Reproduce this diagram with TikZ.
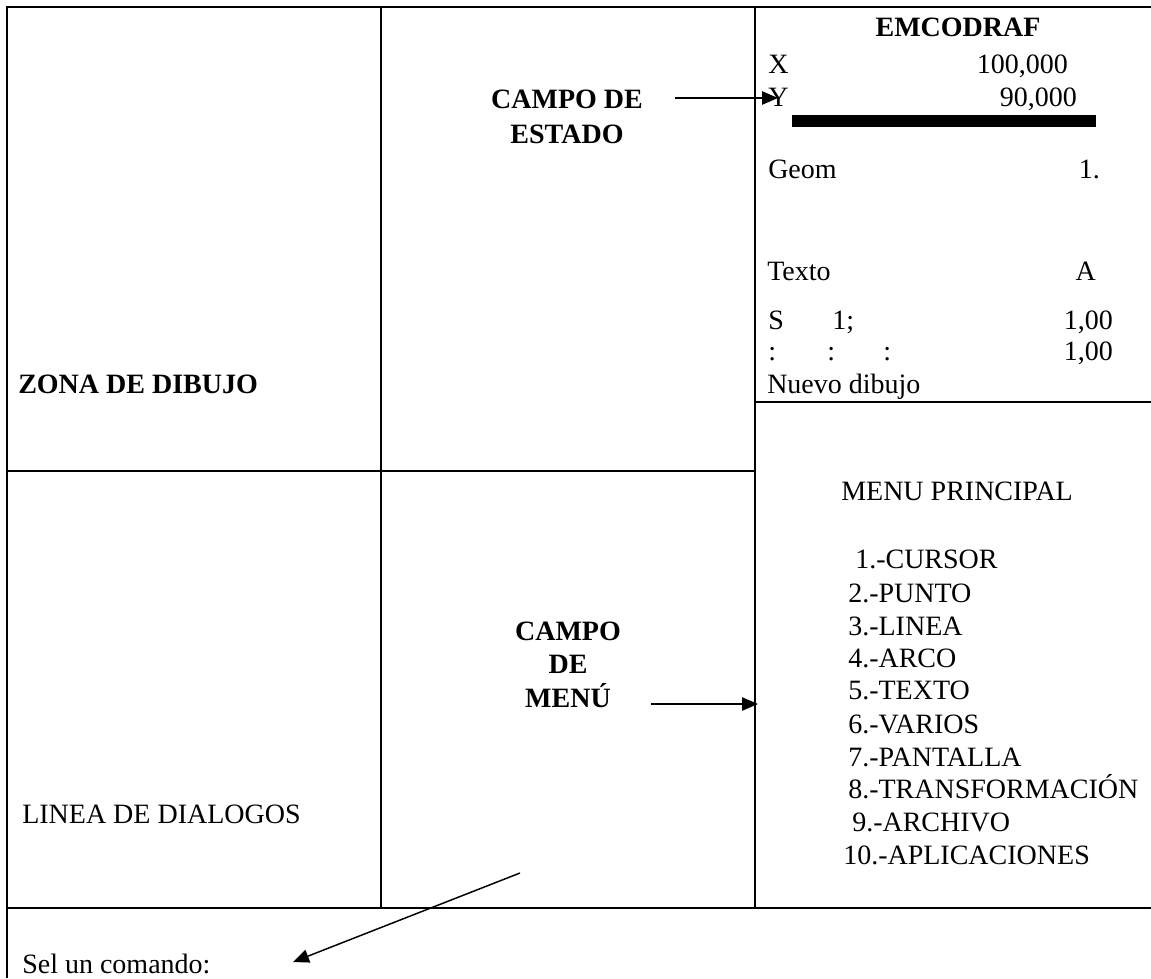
\documentclass[tikz,border=0pt]{standalone}
\usepackage{fontspec}
\setmainfont{Liberation Serif}
\usetikzlibrary{arrows.meta}
\tikzset{
  marco/.style={line width=2pt},
  txt/.style={inner sep=0pt, font=\fontsize{21}{25}\selectfont},
  txtb/.style={txt, font=\fontsize{21}{25}\selectfont\bfseries},
  flecha/.style={line width=1.1pt, -{Triangle[length=12pt,width=10pt]}}
}
\begin{document}
\begin{tikzpicture}[x=0.75pt,y=-0.75pt]
\useasboundingbox (0,0) rectangle (1151,978);
% cuadricula
\coordinate (tl) at (7,7);
\coordinate (tr) at (1151,7);
\coordinate (bl) at (7,978);
\draw[marco] (tr) -- (tl) -- (bl);
\draw[marco] (381,7) to (381,908);
\draw[marco] (755,7) to (755,908);
\draw[marco] (7,471) to (755,471);
\draw[marco] (755,402) to (1151,402);
\draw[marco] (7,908) to (1151,908);
\fill (792,115) rectangle (1096,127);
% panel de estado
\node[txtb, anchor=base] (emco) at (958,36) {EMCODRAF};
\node[txt, anchor=base west] (xl) at (768,73) {X};
\node[txt, anchor=base east] (xv) at (1068,73) {100,000};
\node[txt, anchor=base west] (yl) at (768,106) {Y};
\node[txt, anchor=base east] (yv) at (1077,106) {90,000};
\node[txt, anchor=base west] (geom) at (768,178) {Geom};
\node[txt, anchor=base east] (geomv) at (1100,178) {1.};
\node[txt, anchor=base west] (texto) at (767,280) {Texto};
\node[txt, anchor=base east] (textov) at (1096,280) {A};
\node[txt, anchor=base west] (sl) at (768,329) {S};
\node[txt, anchor=base west] (sn) at (832,329) {1;};
\node[txt, anchor=base east] (sv) at (1113,329) {1,00};
\node[txt, anchor=base west] (c1) at (768,360) {:};
\node[txt, anchor=base west] (c2) at (827,360) {:};
\node[txt, anchor=base west] (c3) at (883,360) {:};
\node[txt, anchor=base east] (cv) at (1113,360) {1,00};
\node[txt, anchor=base west] (nuevo) at (767,393) {Nuevo dibujo};
% menu principal
\node[txt, anchor=base west] (menu) at (841,500) {MENU PRINCIPAL};
\node[txt, anchor=base west] (m1) at (855,568) {1.-CURSOR};
\node[txt, anchor=base west] (m2) at (848,602) {2.-PUNTO};
\node[txt, anchor=base west] (m3) at (848,635) {3.-LINEA};
\node[txt, anchor=base west] (m4) at (848,667) {4.-ARCO};
\node[txt, anchor=base west] (m5) at (848,699) {5.-TEXTO};
\node[txt, anchor=base west] (m6) at (848,733) {6.-VARIOS};
\node[txt, anchor=base west] (m7) at (848,766) {7.-PANTALLA};
\node[txt, anchor=base west] (m8) at (848,798) {8.-TRANSFORMACIÓN};
\node[txt, anchor=base west] (m9) at (852,831) {9.-ARCHIVO};
\node[txt, anchor=base west] (m10) at (843,864) {10.-APLICACIONES};
% rotulos
\node[txtb, anchor=base] (estado1) at (567,108) {CAMPO DE};
\node[txtb, anchor=base] (estado2) at (567,143) {ESTADO};
\node[txtb, anchor=base] (campo1) at (568,640) {CAMPO};
\node[txtb, anchor=base] (campo2) at (568,673) {DE};
\node[txtb, anchor=base] (campo3) at (568,707) {MENÚ};
\node[txtb, anchor=base west] (zona) at (18,393) {ZONA DE DIBUJO};
\node[txt, anchor=base west] (dialogo) at (22,823) {LINEA DE DIALOGOS};
\node[txt, anchor=base west] (sel) at (22,973) {Sel un comando:};
% flechas
\coordinate (estA) at (675,98);
\coordinate (estB) at (778,98);
\coordinate (menA) at (651,704);
\coordinate (menB) at (758,704);
\coordinate (selA) at (520,873);
\coordinate (selB) at (293,962);
\draw[flecha] (estA) -- (estB);
\draw[flecha] (menA) -- (menB);
\draw[flecha] (selA) -- (selB);
\end{tikzpicture}
\end{document}
